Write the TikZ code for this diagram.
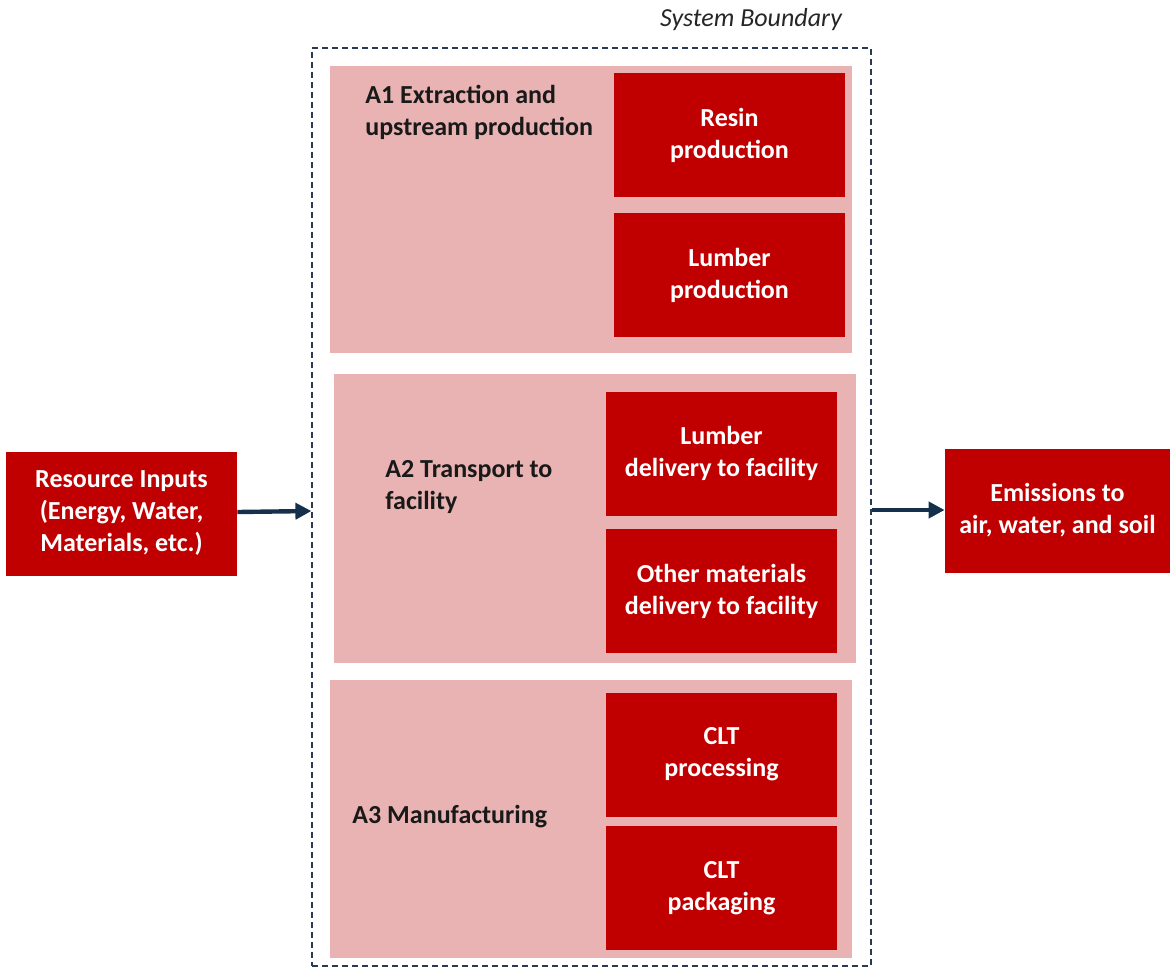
\documentclass[tikz,border=0pt]{standalone}
\usepackage{fontspec}
\setmainfont{Carlito}
\usetikzlibrary{arrows.meta}
\definecolor{boxred}{HTML}{C00000}
\definecolor{stagepink}{HTML}{E9B3B3}
\definecolor{flowblue}{HTML}{14304D}
\definecolor{edgeblue}{HTML}{2A3A52}
\tikzset{
  redbox/.style={fill=boxred, text=white, font=\fontsize{13}{16}\selectfont\bfseries,
    align=center, inner sep=0pt, minimum width=115.5pt, minimum height=62pt},
  stage/.style={fill=stagepink, inner sep=0pt, minimum width=261pt},
  stagelabel/.style={anchor=west, align=left, inner sep=0pt, text=black!90,
    font=\fontsize{13}{16}\selectfont\bfseries},
  flow/.style={draw=flowblue, line width=2.2pt, -{Triangle[length=8pt,width=8pt]}}
}
\begin{document}
\begin{tikzpicture}[x=0.5pt,y=-0.5pt]
  \useasboundingbox (0,0) rectangle (1170,970);
  % system boundary
  \node[draw=edgeblue, dash pattern=on 3pt off 2pt, line width=0.6pt, inner sep=0pt,
    minimum width=279.5pt, minimum height=459pt] (boundary) at (591.5,507) {};
  \node[font=\fontsize{13}{15}\selectfont\itshape, text=black!85] (sysname) at (751,20) {System Boundary};
  % stages
  \node[stage, minimum height=143.5pt] (a1) at (591,209.5) {};
  \node[stage, minimum height=144.5pt] (a2) at (595,518.5) {};
  \node[stage, minimum height=139pt] (a3) at (591,819) {};
  \node[stagelabel] (a1label) at (365,112) {A1 Extraction and\\upstream production};
  \node[stagelabel] (a2label) at (385,487) {A2 Transport to\\facility};
  \node[stagelabel] (a3label) at (352,817) {A3 Manufacturing};
  % processes
  \node[redbox] (resin) at (729.5,135) {Resin\\production};
  \node[redbox] (lumber) at (729.5,275) {Lumber\\production};
  \node[redbox] (delivery) at (721.5,453.5) {Lumber\\delivery to facility};
  \node[redbox] (other) at (721.5,591) {Other materials\\delivery to facility};
  \node[redbox] (processing) at (721.5,754.5) {CLT\\processing};
  \node[redbox] (packaging) at (721.5,888) {CLT\\packaging};
  % inputs and outputs
  \node[redbox] (inputs) at (121.5,513.5) {Resource Inputs\\(Energy, Water,\\Materials, etc.)};
  \node[redbox, minimum width=112.5pt] (emissions) at (1057.5,510.5) {Emissions to\\air, water, and soil};
  \draw[flow] (inputs.east |- 0,512) -- (boundary.west |- 0,511);
  \draw[flow] (boundary.east |- 0,510) -- (emissions.west |- 0,510);
\end{tikzpicture}
\end{document}
